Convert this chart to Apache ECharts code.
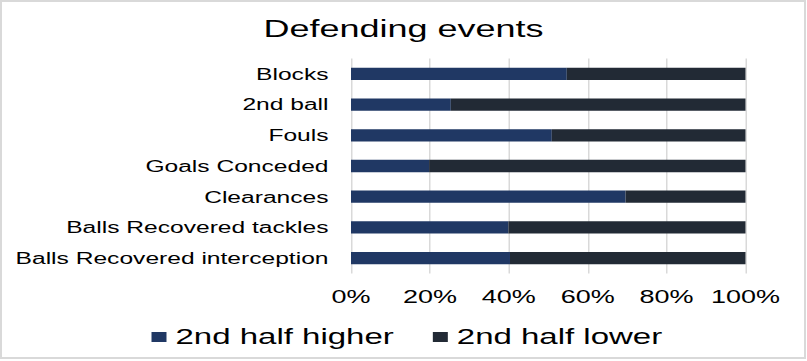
<!DOCTYPE html>
<html>
<head>
<meta charset="utf-8">
<script src="https://cdn.jsdelivr.net/npm/echarts@6/dist/echarts.min.js"></script>
<style>
  html, body { margin:0; padding:0; background:#fff; }
  #frame { position:absolute; left:0; top:0; width:806px; height:359px; box-sizing:border-box; border:2px solid #d9d9d9; }
  #chart { position:absolute; left:0; top:0; width:538px; height:361px; transform:scaleX(1.5); transform-origin:0 0; }
</style>
</head>
<body>
<div id="frame"></div>
<div id="chart"></div>
<script>
const categories = ['Blocks', '2nd ball', 'Fouls', 'Goals Conceded', 'Clearances', 'Balls Recovered tackles', 'Balls Recovered interception'];
const higher = [54.7, 25.3, 50.9, 19.8, 69.6, 39.9, 40.3];
const lower = [45.3, 74.7, 49.1, 80.2, 30.4, 60.1, 59.7];
const seriesNames = ['2nd half higher', '2nd half lower'];
const tickLabels = ['0%', '20%', '40%', '60%', '80%', '100%'];

const font = 'Liberation Sans, Arial, sans-serif';
const chart = echarts.init(document.getElementById('chart'), null, { renderer: 'svg' });
chart.setOption({
  animation: false,
  title: {
    text: 'Defending events',
    left: 'center',
    top: 11,
    textStyle: { fontFamily: font, fontSize: 24, fontWeight: 'normal', color: '#000' }
  },
  legend: {
    data: seriesNames,
    left: 101,
    top: 326,
    padding: 0,
    itemWidth: 10,
    itemHeight: 10,
    itemGap: 26,
    icon: 'rect',
    textStyle: { fontFamily: font, fontSize: 22, color: '#000', padding: [0, 0, 0, 1] }
  },
  grid: { left: 234, right: 41, top: 58.5, bottom: 87.5, containLabel: false },
  xAxis: {
    type: 'value',
    min: 0,
    max: 100,
    interval: 20,
    axisLine: { show: false },
    axisTick: { show: false },
    splitLine: { show: true, lineStyle: { color: '#d9d9d9', width: 1 } },
    axisLabel: {
      margin: 14,
      fontFamily: font,
      fontSize: 18,
      color: '#000',
      formatter: function (v) { return tickLabels[Math.round(v / 20)]; }
    }
  },
  yAxis: {
    type: 'category',
    data: categories,
    inverse: true,
    axisLine: { show: false },
    axisTick: { show: false },
    axisLabel: { margin: 15, fontFamily: font, fontSize: 16.4, color: '#000' }
  },
  series: [
    { name: seriesNames[0], type: 'bar', stack: 'total', data: higher, barCategoryGap: '60%', itemStyle: { color: '#203864' } },
    { name: seriesNames[1], type: 'bar', stack: 'total', data: lower, barCategoryGap: '60%', itemStyle: { color: '#222a35' } }
  ]
});
</script>
</body>
</html>
